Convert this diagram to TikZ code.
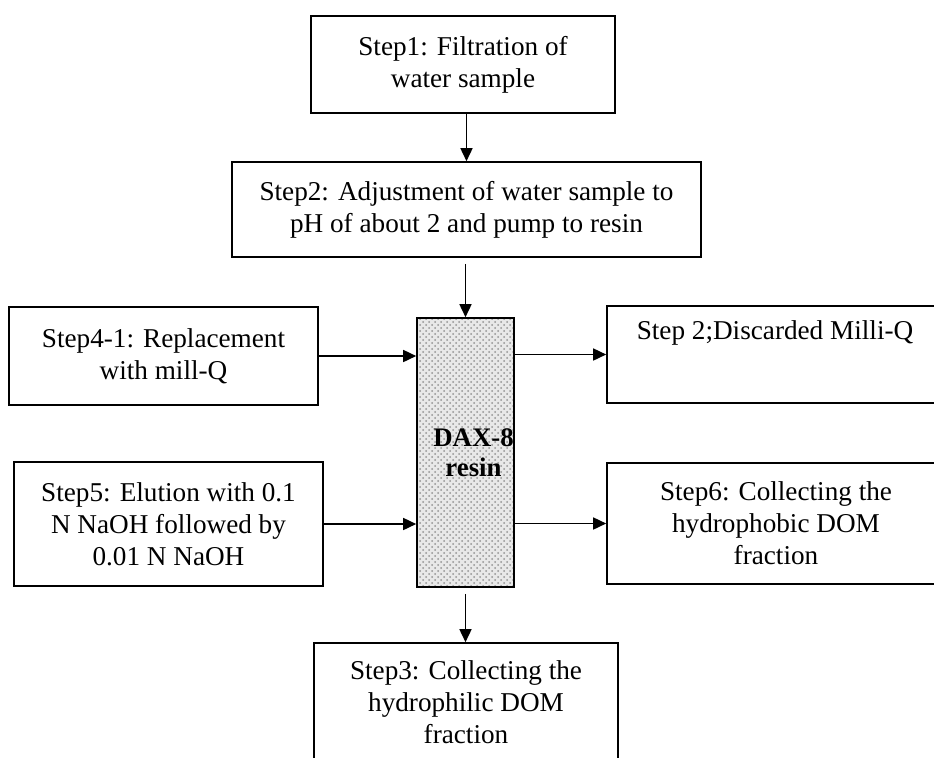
\documentclass[tikz,border=0pt]{standalone}
\usepackage{fontspec}
\setmainfont{Liberation Serif}
\usetikzlibrary{arrows.meta,patterns}

\begin{document}
\begin{tikzpicture}[x=0.5pt,y=-0.5pt,
  stepbox/.style={draw,line width=0.8pt,align=center,inner sep=2pt,font=\fontsize{13.6}{16}\selectfont},
  resinbox/.style={draw,line width=0.8pt,align=center,inner xsep=0pt,preaction={fill=gray!18},pattern=crosshatch dots,pattern color=gray!85,font=\fontsize{13.4}{15}\selectfont\bfseries},
  arr/.style={line width=0.8pt,-{Triangle[length=6.5pt,width=6pt]}}]
  \useasboundingbox (0,0) rectangle (934,757);
  % boxes
  \node[stepbox,minimum width=152pt,minimum height=48.5pt] (s1) at (463,64.5) {Step1: Filtration of\\water sample};
  \node[stepbox,minimum width=234.5pt,minimum height=47.5pt] (s2) at (466.5,209.5) {Step2: Adjustment of water sample to\\pH of about 2 and pump to resin};
  \node[resinbox,minimum width=48.5pt,minimum height=134.5pt] (dax) at (465.5,452.5) {\hspace*{8pt}DAX-8\\\hspace*{8pt}resin};
  \node[stepbox,minimum width=154.5pt,minimum height=49pt] (s41) at (163.5,356) {Step4-1: Replacement\\with mill-Q};
  \node[stepbox,minimum width=154.5pt,minimum height=62pt] (s5) at (168.5,524) {Step5: Elution with 0.1\\N NaOH followed by\\0.01 N NaOH};
  \node[stepbox,minimum width=168pt,minimum height=48.5pt,text depth=24pt] (d2) at (775,354.5) {Step 2;Discarded Milli-Q};
  \node[stepbox,minimum width=169pt,minimum height=60.5pt] (s6) at (776,523.5) {Step6: Collecting the\\hydrophobic DOM\\fraction};
  \node[stepbox,minimum width=152pt,minimum height=59.5pt] (s3) at (466,702.5) {Step3: Collecting the\\hydrophilic DOM\\fraction};
  % arrows
  \draw[arr] (s1.south -| s2.north) -- (s2.north);
  \draw[arr,shorten <=3pt] (s2.south -| dax.north) -- (dax.north);
  \draw[arr] (s41.east) -- (s41.east -| dax.west);
  \draw[arr] (s5.east) -- (s5.east -| dax.west);
  \draw[arr] (d2.west -| dax.east) -- (d2.west);
  \draw[arr] (s6.west -| dax.east) -- (s6.west);
  \draw[arr,shorten <=3pt] (dax.south) -- (dax.south |- s3.north);
\end{tikzpicture}
\end{document}
